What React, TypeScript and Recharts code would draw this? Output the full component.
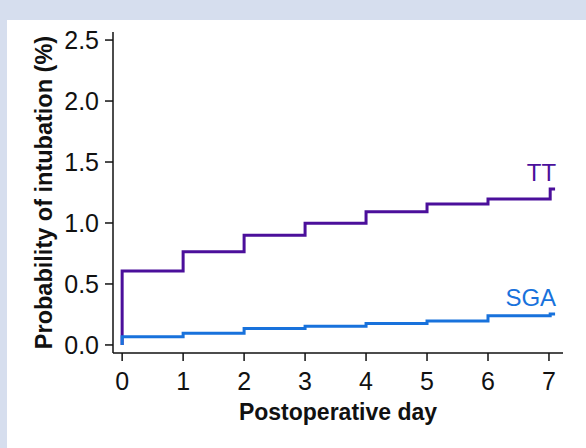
import { Label, LabelList, Line, LineChart, XAxis, YAxis } from "recharts"

// cumulative probability of intubation (%) by postoperative day (step curve)
const days = [0, 0, 1, 2, 3, 4, 5, 6, 7.02, 7.1]
const ttRisk = [0, 0.607, 0.765, 0.9, 0.997, 1.093, 1.155, 1.197, 1.279, 1.279]
const sgaRisk = [0, 0.068, 0.096, 0.134, 0.153, 0.175, 0.197, 0.24, 0.254, 0.254]

const xTicks = [0, 1, 2, 3, 4, 5, 6, 7]
const yTicks = [0, 0.5, 1, 1.5, 2, 2.5]

const TT_COLOR = "#4b0f9b"
const SGA_COLOR = "#1872dc"
const FONT = "'Liberation Sans', Arial, sans-serif"

const data = days.map((d, i) => ({ day: d, tt: ttRisk[i], sga: sgaRisk[i] }))
const last = days.length - 1

const endTag = (text: string, color: string) => (props: any) => {
  if (props.index !== last) return null
  const vb = props.viewBox || {}
  const x = vb.x ?? props.x
  const y = vb.y ?? props.y
  return (
    <text x={x + 1} y={y - 8} textAnchor="end" fill={color} fontSize={24} fontFamily={FONT}>
      {text}
    </text>
  )
}

export default function App() {
  return (
    <div style={{ position: "fixed", left: 0, top: 0, width: 586, height: 448, background: "#d6deee" }}>
      <div style={{ position: "absolute", left: 7, top: 20, width: 579, height: 428, background: "#ffffff" }} />
      <div style={{ position: "absolute", left: 0, top: 0 }}>
        <LineChart width={586} height={448} data={data} margin={{ top: 32, right: 23, bottom: 0, left: 0 }}>
          <XAxis
            dataKey="day"
            type="number"
            domain={[-0.15, 7.23]}
            ticks={xTicks}
            interval={0}
            height={95}
            tickSize={8}
            tickMargin={11}
            stroke="#111"
            strokeWidth={1.5}
            fontSize={25}
            tick={{ fill: "#111", fontSize: 25, fontFamily: FONT }}
          >
            <Label
              value="Postoperative day"
              position="center"
              dy={11}
              style={{ fontSize: 23, fontWeight: "bold", fontFamily: FONT, fill: "#111" }}
            />
          </XAxis>
          <YAxis
            type="number"
            domain={[-0.066, 2.566]}
            ticks={yTicks}
            interval={0}
            width={113}
            tickSize={8}
            tickMargin={6}
            stroke="#111"
            strokeWidth={1.5}
            fontSize={25}
            tickFormatter={(v: number) => v.toFixed(1)}
            tick={{ fill: "#111", fontSize: 25, fontFamily: FONT }}
          >
            <Label
              value="Probability of intubation (%)"
              position="center"
              angle={-90}
              dx={-13}
              style={{ fontSize: 23.5, fontWeight: "bold", fontFamily: FONT, fill: "#111", textAnchor: "middle" }}
            />
          </YAxis>
          <Line
            type="stepAfter"
            dataKey="tt"
            stroke={TT_COLOR}
            strokeWidth={3}
            dot={false}
            isAnimationActive={false}
          >
            <LabelList dataKey="tt" content={endTag("TT", TT_COLOR)} />
          </Line>
          <Line
            type="stepAfter"
            dataKey="sga"
            stroke={SGA_COLOR}
            strokeWidth={3}
            dot={false}
            isAnimationActive={false}
          >
            <LabelList dataKey="sga" content={endTag("SGA", SGA_COLOR)} />
          </Line>
        </LineChart>
      </div>
    </div>
  )
}
